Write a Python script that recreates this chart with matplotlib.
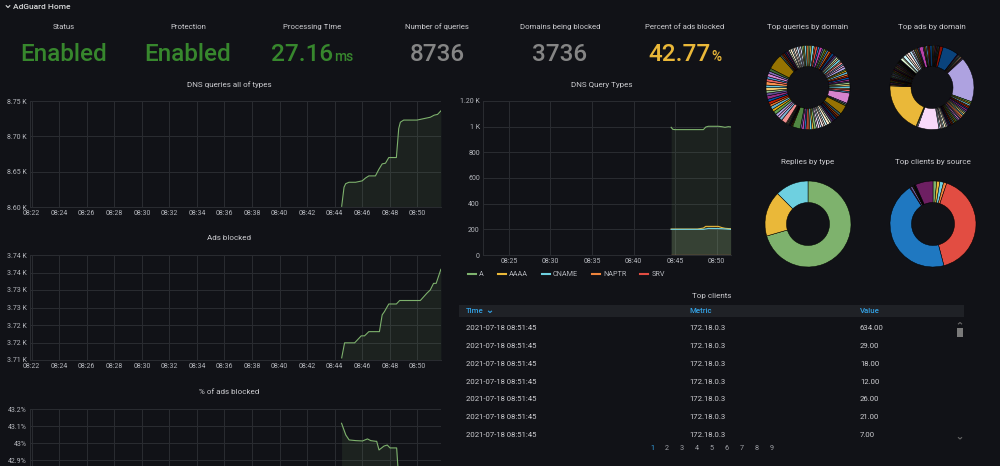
import matplotlib
matplotlib.use("Agg")
import matplotlib.pyplot as plt
from matplotlib.lines import Line2D
from matplotlib.patches import Rectangle
from matplotlib.ticker import FixedLocator, FixedFormatter

plt.rcParams['font.family'] = ['Roboto', 'DejaVu Sans']

# --- DATA ---
STAT_TITLES = ["Status", "Protection", "Processing TIme", "Number of queries",
               "Domains being blocked", "Percent of ads blocked"]
STAT_VALUES = ["Enabled", "Enabled", "27.16", "8736", "3736", "42.77"]
STAT_UNITS = ["", "", "ms", "", "", "%"]

# times are minutes after 08:00
DNS_T = [44.51, 44.68, 44.80, 45.04, 45.52, 46.00, 46.24, 46.48, 46.96, 47.20, 47.45, 47.69,
         47.93, 48.48, 48.65, 48.77, 49.01, 49.98, 50.46, 50.94, 51.23, 51.47, 51.71]
DNS_V = [8601, 8628, 8633, 8635, 8635, 8637, 8641, 8644, 8644, 8653, 8661, 8662,
         8670, 8670, 8711, 8720, 8723, 8723, 8725, 8727, 8730, 8731, 8736]

ADS_T = [44.51, 44.72, 45.45, 45.93, 46.17, 46.48, 47.25, 47.45, 47.61, 47.93, 48.48, 48.72,
         50.22, 50.70, 50.94, 51.18, 51.37, 51.71]
ADS_V = [3710.6, 3714.9, 3714.9, 3716.9, 3716.9, 3718.1, 3718.1, 3722.9, 3723.8, 3726.0,
         3726.0, 3727.0, 3727.0, 3729.1, 3730.0, 3731.9, 3731.9, 3735.9]

PCT_T = [44.50, 44.81, 45.05, 45.54, 46.02, 46.38, 46.62, 46.98, 47.05, 47.22, 47.58, 47.82,
         48.02, 48.50, 48.59, 48.80, 49.10, 50.10, 51.71]
PCT_V = [43.116, 43.047, 43.018, 43.014, 43.012, 43.024, 43.014, 43.010, 43.010, 42.959,
         42.982, 42.988, 42.971, 42.971, 42.860, 42.800, 42.790, 42.780, 42.770]

QT_T = [44.52, 44.72, 45.0, 47.68, 48.4, 48.68, 49.0, 50.2, 50.6, 51.0, 51.4, 51.68]
QT_SERIES = {
    "A":     [995, 979, 977, 977, 977, 997, 1003, 1003, 1000, 995, 1000, 998],
    "AAAA":  [202, 202, 202, 202, 210, 223, 223, 223, 214, 208, 206, 205],
    "CNAME": [200, 200, 200, 200, 200, 203, 207, 206, 205, 203, 201, 200],
    "NAPTR": [2, 2, 2, 2, 2, 2, 2, 2, 2, 2, 2, 2],
    "SRV":   [1, 1, 1, 1, 1, 1, 1, 1, 1, 1, 1, 1],
}

TOP_QUERIES = [0.8, 0.6, 1.0, 0.5, 0.9, 0.7, 1.1, 0.6, 0.8, 0.5,
               0.7, 0.9, 0.6, 1.0, 0.5, 0.8, 0.7, 0.6, 0.9, 0.5,
               0.8, 0.6, 0.7, 1.0, 0.5, 0.6, 0.9, 0.7, 0.6, 0.8,
               0.7, 0.5, 0.8, 0.6, 0.9, 0.5, 0.7, 0.6, 4.0, 0.5,
               0.6, 3.5, 0.9, 0.7, 0.8, 1.0, 0.6, 0.9, 0.7, 1.1,
               0.8, 0.6, 0.9, 0.7, 0.8, 0.6, 1.0, 0.7, 0.9, 0.6,
               0.8, 0.7, 0.9, 0.6, 3.0, 0.3, 0.2, 0.3, 0.2, 0.3,
               0.2, 0.3, 0.2, 0.3, 0.2, 0.3, 2.0, 1.2, 0.9, 1.1,
               1.3, 1.0, 1.2, 0.9, 1.1, 1.0, 1.3, 1.1, 0.9, 1.2,
               1.0, 1.3, 1.1, 0.9, 1.2, 1.0, 1.1, 6.0, 0.7, 0.5,
               0.8, 0.6, 0.7, 0.5, 0.6, 0.8, 0.5, 0.7, 0.6, 0.8,
               0.5, 0.7, 0.6, 0.5, 0.8, 0.6]

TOP_ADS = [0.3, 0.2, 0.3, 0.2, 0.3, 0.2, 0.3, 0.2, 0.3, 0.2,
           0.3, 0.2, 1.2, 6.0, 0.3, 0.4, 0.3, 0.2, 0.3, 0.4,
           0.3, 0.2, 0.3, 17.0, 0.6, 0.5, 0.7, 0.4, 0.6, 0.5,
           0.7, 0.6, 0.5, 0.6, 0.5, 0.7, 0.6, 0.4, 0.6, 0.5,
           0.7, 0.5, 0.6, 0.4, 0.6, 0.5, 0.4, 0.6, 0.5, 0.7,
           0.5, 0.4, 0.6, 0.5, 8.0, 0.4, 0.3, 19.0, 0.2, 0.3,
           0.2, 0.2, 0.3, 0.2, 0.2, 0.3, 0.2, 0.2, 0.3, 0.2,
           0.2, 0.3, 0.2, 0.2, 0.3, 0.2, 0.2, 0.3, 0.2, 0.2,
           0.3, 0.2, 0.2, 0.3, 0.2, 0.2, 0.3, 0.2, 0.2, 0.3,
           0.2, 0.2, 0.3, 0.2, 0.2, 0.3, 0.2, 0.2, 0.3, 0.2,
           0.2, 0.3, 0.2, 0.2, 1.0, 0.4, 1.2, 0.8, 1.0, 0.9,
           0.4, 0.5, 0.3, 0.4, 0.3, 0.4, 0.3, 0.4, 1.5, 0.4,
           0.3, 0.4, 0.6, 0.4, 0.5, 0.8]

REPLIES = [70.5, 17.0, 12.5]
TOP_CLIENTS = [1.4, 1.2, 1.4, 1.2, 41.0, 45.3, 0.3, 0.8, 0.2, 0.2, 0.2, 0.2, 0.2, 0.3, 6.7]

TABLE_COLS = ["Time", "Metric", "Value"]
TABLE_TIME = ["2021-07-18 08:51:45", "2021-07-18 08:51:45", "2021-07-18 08:51:45",
              "2021-07-18 08:51:45", "2021-07-18 08:51:45", "2021-07-18 08:51:45",
              "2021-07-18 08:51:45"]
TABLE_METRIC = ["172.18.0.3", "172.18.0.3", "172.18.0.3", "172.18.0.3",
                "172.18.0.3", "172.18.0.3", "172.18.0.3"]
TABLE_VALUE = ["634.00", "29.00", "18.00", "12.00", "26.00", "21.00", "7.00"]
PAGES = ["1", "2", "3", "4", "5", "6", "7", "8", "9"]

# --- STYLE ---
W, H = 1000, 466
BG = '#111217'
GRID = '#2a2c31'
TXT = '#ccccd0'
TICK = '#b4b6bc'
BLUE = '#33a2e5'
PALETTE = ['#7EB26D', '#EAB839', '#6ED0E0', '#EF843C', '#E24D42', '#1F78C1', '#BA43A9', '#705DA0',
           '#508642', '#CCA300', '#447EBC', '#C15C17', '#890F02', '#0A437C', '#6D1F62', '#584477',
           '#B7DBAB', '#F4D598', '#70DBED', '#F9BA8F', '#F29191', '#82B5D8', '#E5A8E2', '#AEA2E0',
           '#629E51', '#E5AC0E', '#64B0C8', '#E0752D', '#BF1B00', '#0A50A1', '#962D82', '#614D93',
           '#9AC48A', '#F2C96D', '#65C5DB', '#F9934E', '#EA6460', '#5195CE', '#D683CE', '#806EB7',
           '#3F6833', '#967302', '#2F575E', '#99440A', '#58140C', '#052B51', '#511749', '#3F2B5B',
           '#E0F9D7', '#FCEACA', '#CFFAFF', '#F9E2D2', '#FCE2DE', '#BADFF4', '#F9D9F9', '#DEDAF7']
X0, X1 = 21.88, 51.72

fig = plt.figure(figsize=(W / 100, H / 100), dpi=100, facecolor=BG)


def fx(x):
    return x / W


def fy(y):
    return 1 - y / H


def text(x, y, s, **kw):
    kw.setdefault('color', TXT)
    kw.setdefault('ha', 'center')
    kw.setdefault('va', 'center')
    return fig.text(fx(x), fy(y), s, **kw)


def text_width(s, **kw):
    t = fig.text(0, 0, s, **kw)
    fig.canvas.draw()
    w = t.get_window_extent().width
    t.remove()
    return w


def chevron(x, y, w, h, up=False, color=TICK):
    ys = [y + h, y, y + h] if up else [y - h, y, y - h]
    fig.add_artist(Line2D([fx(x - w), fx(x), fx(x + w)], [fy(v) for v in ys],
                          color=color, lw=0.8))


def add_ax(l, t, r, b):
    return fig.add_axes([fx(l), fy(b), (r - l) / W, (b - t) / H])


def time_axis(ax, ticks, ylabels, yticks, ylim):
    ax.set_facecolor(BG)
    ax.set_xlim(X0, X1)
    ax.set_ylim(*ylim)
    ax.xaxis.set_major_locator(FixedLocator(ticks))
    ax.xaxis.set_major_formatter(FixedFormatter(["08:%02d" % t for t in ticks]))
    ax.yaxis.set_major_locator(FixedLocator(yticks))
    ax.yaxis.set_major_formatter(FixedFormatter(ylabels))
    ax.tick_params(colors=TICK, labelsize=5, length=0, pad=2.3)
    ax.grid(True, color=GRID, lw=0.7)
    for side in ['top', 'right']:
        ax.spines[side].set_visible(False)
    for side in ['left', 'bottom']:
        ax.spines[side].set_color(GRID)
        ax.spines[side].set_linewidth(0.7)
    ax.set_axisbelow(True)


def area(ax, t, v, color, base):
    ax.plot(t, v, color=color, lw=0.8)
    ax.fill_between(t, v, base, color=color, alpha=0.1, lw=0)


# --- HEADER ---
chevron(8, 7.5, 1.8, 1.8, color='#d8d9da')
text(13, 7, "AdGuard Home", ha='left', fontsize=6, color='#d8d9da', weight='medium')

# --- STAT PANELS ---
stat_x = [64, 188, 312, 437, 560, 685]
stat_color = ['#37872D', '#37872D', '#37872D', '#858585', '#858585', '#EAB839']
VAL_FS, UNIT_FS = 17.5, 10
for x, title, val, unit, c in zip(stat_x, STAT_TITLES, STAT_VALUES, STAT_UNITS, stat_color):
    text(x, 27, title, fontsize=5.6)
    if unit:
        wv = text_width(val, fontsize=VAL_FS, weight='medium')
        wu = text_width(unit, fontsize=UNIT_FS, weight='medium')
        start = x - (wv + wu + 1) / 2
        text(start, 54.5, val, ha='left', fontsize=VAL_FS, color=c, weight='medium')
        text(start + wv + 1, 57, unit, ha='left', fontsize=UNIT_FS, color=c, weight='medium')
    else:
        text(x, 54.5, val, fontsize=VAL_FS, color=c, weight='medium')

# --- LINE PANELS ---
left_ticks = list(range(22, 51, 2))

text(229, 85, "DNS queries all of types", fontsize=5.8)
ax1 = add_ax(30, 101, 441, 207)
time_axis(ax1, left_ticks, ["8.60 K", "8.65 K", "8.70 K", "8.75 K"],
          [8600, 8650, 8700, 8750], (8600, 8750))
area(ax1, DNS_T, DNS_V, PALETTE[0], 8600)

text(229, 238, "Ads blocked", fontsize=5.8)
ax2 = add_ax(30, 255, 441, 360)
time_axis(ax2, left_ticks, ["3.71 K", "3.72 K", "3.72 K", "3.73 K", "3.73 K", "3.74 K", "3.74 K"],
          [3710, 3715, 3720, 3725, 3730, 3735, 3740], (3710, 3740))
area(ax2, ADS_T, ADS_V, PALETTE[0], 3710)

# this panel runs past the bottom edge of the screenshot
text(229, 392, "% of ads blocked", fontsize=5.8)
ax3 = add_ax(30, 409, 441, 494)
time_axis(ax3, left_ticks, ["42.9%", "43%", "43.1%", "43.2%"],
          [42.9, 43.0, 43.1, 43.2], (42.7, 43.2))
ax3.tick_params(labelbottom=False)
area(ax3, PCT_T, PCT_V, PALETTE[0], 42.7)

text(602, 85, "DNS Query Types", fontsize=5.8)
ax4 = add_ax(483, 101, 731, 255)
time_axis(ax4, [25, 30, 35, 40, 45, 50], ["0", "200", "400", "600", "800", "1 K", "1.20 K"],
          [0, 200, 400, 600, 800, 1000, 1200], (0, 1200))
qt_colors = PALETTE[:5]
for (name, vals), c in zip(QT_SERIES.items(), qt_colors):
    area(ax4, QT_T, vals, c, 0)

# legend
lx = 468
for name, c in zip(QT_SERIES.keys(), qt_colors):
    fig.add_artist(Line2D([fx(lx), fx(lx + 8)], [fy(274), fy(274)], color=c, lw=1.5))
    text(lx + 11, 274, name, ha='left', fontsize=5.2, color=TICK)
    lx += 11 + text_width(name, fontsize=5.2) + 14

# --- DONUTS ---


def donut(cx, cy, r, vals, title, ty):
    text(cx, ty, title, fontsize=5.8)
    ax = fig.add_axes([fx(cx - r), fy(cy + r), 2 * r / W, 2 * r / H])
    cols = [PALETTE[i % len(PALETTE)] for i in range(len(vals))]
    ax.pie(vals, colors=cols, startangle=90, counterclock=False, radius=1,
           wedgeprops=dict(width=0.5, edgecolor='#000000', linewidth=0.35))
    ax.set_xlim(-1, 1)
    ax.set_ylim(-1, 1)


donut(808, 87.5, 42, TOP_QUERIES, "Top queries by domain", 27)
donut(932, 87.5, 42, TOP_ADS, "Top ads by domain", 27)
donut(808, 224, 43, REPLIES, "Replies by type", 162)
donut(933, 224, 43, TOP_CLIENTS, "Top clients by source", 162)

# --- TABLE ---
text(712, 296, "Top clients", fontsize=5.8)
fig.add_artist(Rectangle((fx(459), fy(317)), (964 - 459) / W, 12 / H,
                         color='#1f2126', lw=0))
col_x = [466, 689, 860]
for x, c in zip(col_x, TABLE_COLS):
    text(x, 311, c, ha='left', fontsize=5.6, color=BLUE, weight='medium')
chevron(490, 312.5, 1.5, 1.3, color=BLUE)
for i, (tm, mt, vl) in enumerate(zip(TABLE_TIME, TABLE_METRIC, TABLE_VALUE)):
    y = 328.5 + i * 17.7
    text(col_x[0], y, tm, ha='left', fontsize=5.6)
    text(col_x[1], y, mt, ha='left', fontsize=5.6)
    text(col_x[2], y, vl, ha='left', fontsize=5.6)

fig.add_artist(Rectangle((fx(957), fy(337)), 6 / W, 9 / H, color='#7a7a7a', lw=0))
chevron(960, 322.5, 1.6, 1.4, up=True, color='#666')
chevron(960, 439, 1.6, 1.4, color='#666')

for i, p in enumerate(PAGES):
    text(652 + i * 15, 449, p, fontsize=5.2, color=BLUE if i == 0 else '#a0a2a8')

fig.savefig("out.png", dpi=100, facecolor=BG)
